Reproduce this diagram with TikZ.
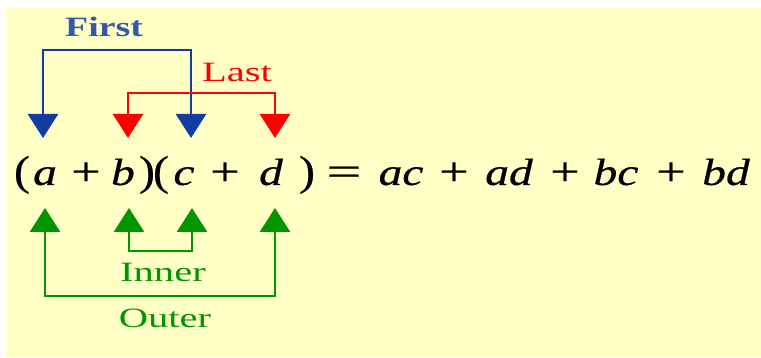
\documentclass[tikz,border=0pt]{standalone}
\usepackage{fontspec}
\setmainfont{Liberation Serif}
\newfontfamily\eqfont{Liberation Serif}[FakeBold=0.4]
\usetikzlibrary{arrows.meta}
\definecolor{bgyellow}{RGB}{255,255,198}
\definecolor{fblue}{RGB}{20,60,160}
\definecolor{textblue}{RGB}{50,90,170}
\definecolor{lred}{RGB}{255,0,0}
\definecolor{igreen}{RGB}{0,150,0}
\newcommand{\hsx}[1]{\scalebox{1.25}[1]{#1}}
\newcommand{\hsy}[1]{\scalebox{1.3}[1]{\fontsize{40}{44}\selectfont #1}}
\newcommand{\hpar}[1]{\scalebox{1.15}[1]{\fontsize{42}{44}\selectfont #1}}
\newcommand{\hlbl}[1]{\scalebox{1.45}[1]{#1}}
\begin{document}
\begin{tikzpicture}[x=1pt,y=-1pt,
  tok/.style={anchor=base,inner sep=0pt,text=black,font=\eqfont\fontsize{38}{42}\selectfont},
  lbl/.style={anchor=base,inner sep=0pt,font=\fontsize{28}{32}\selectfont},
  both/.style={line width=2.8pt,line join=miter,
    {Triangle[width=30pt,length=24pt]}-{Triangle[width=30pt,length=24pt]}},
]
\useasboundingbox (0,0) rectangle (761,358);
\fill[bgyellow] (6,8) rectangle (761,357);

% equation
\node[tok] (lp1) at (22,185) {\hpar{(}};
\node[tok] (a) at (45,185) {\hsx{\itshape a}};
\node[tok] (p1) at (86,185) {\hsy{+}};
\node[tok] (b) at (123,185) {\hsx{\itshape b}};
\node[tok] (rp1) at (147,185) {\hpar{)}};
\node[tok] (lp2) at (161,185) {\hpar{(}};
\node[tok] (c) at (184,185) {\hsx{\itshape c}};
\node[tok] (p2) at (225,185) {\hsy{+}};
\node[tok] (d) at (271,185) {\hsx{\itshape d}};
\node[tok] (rp2) at (307,185) {\hpar{)}};
\node[tok] (eq) at (344,185) {\scalebox{1.55}[1]{\fontsize{40}{44}\selectfont =}};
\node[tok] (ac) at (401,185) {\hsx{\itshape ac}};
\node[tok] (p3) at (454,185) {\hsy{+}};
\node[tok] (ad) at (509,185) {\hsx{\itshape ad}};
\node[tok] (p4) at (565,185) {\hsy{+}};
\node[tok] (bc) at (616,185) {\hsx{\itshape bc}};
\node[tok] (p5) at (671,185) {\hsy{+}};
\node[tok] (bd) at (726,185) {\hsx{\itshape bd}};

% labels
\node[lbl,text=textblue] (first) at (104,37) {\scalebox{1.35}[1]{\bfseries First}};
\node[lbl,text=lred] (last) at (237,82) {\hlbl{Last}};
\node[lbl,text=igreen] (inner) at (163,282) {\hlbl{Inner}};
\node[lbl,text=igreen] (outer) at (165,327) {\hlbl{Outer}};

% arrow coordinates
\coordinate (tA) at (43,138);
\coordinate (tB) at (128,138);
\coordinate (tC) at (191,138);
\coordinate (tD) at (275,138);
\coordinate (fA) at (43,50);
\coordinate (fC) at (191,50);
\coordinate (lB) at (128,93);
\coordinate (lD) at (275,93);
\coordinate (gA) at (45,208);
\coordinate (gB) at (129,208);
\coordinate (gC) at (192,208);
\coordinate (gD) at (275,208);
\coordinate (iB) at (129,251);
\coordinate (iC) at (192,251);
\coordinate (oA) at (45,296);
\coordinate (oD) at (275,296);

\draw[both,fblue] (tA) -- (fA) -- (fC) -- (tC);
\draw[both,lred] (tB) -- (lB) -- (lD) -- (tD);
\draw[both,igreen] (gB) -- (iB) -- (iC) -- (gC);
\draw[both,igreen] (gA) -- (oA) -- (oD) -- (gD);
\end{tikzpicture}
\end{document}
